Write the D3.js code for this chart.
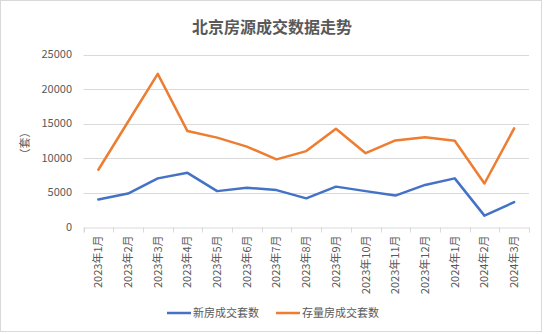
<!DOCTYPE html>
<html><head><meta charset="utf-8">
<script src="https://cdn.jsdelivr.net/npm/d3@7"></script>
<style>body{margin:0;background:#fff}svg{display:block}</style>
</head><body>
<script>
const categories = ["2023年1月","2023年2月","2023年3月","2023年4月","2023年5月","2023年6月","2023年7月","2023年8月","2023年9月","2023年10月","2023年11月","2023年12月","2024年1月","2024年2月","2024年3月"];
const newHomes = [4000, 4850, 7050, 7850, 5200, 5700, 5350, 4150, 5850, 5200, 4550, 6100, 7050, 1650, 3600];
const existingHomes = [8300, 15250, 22200, 13900, 12950, 11650, 9800, 11000, 14250, 10700, 12550, 13000, 12500, 6300, 14300];
const yTicks = [0, 5000, 10000, 15000, 20000, 25000];
const seriesNames = ["新房成交套数", "存量房成交套数"];
const colors = ["#4472C4", "#ED7D31"];

const W = 544, H = 334;
const font = "'Noto Sans CJK SC', 'Noto Sans', sans-serif";
const svg = d3.select("body").append("svg").attr("width", W).attr("height", H);
svg.append("rect").attr("x",0.5).attr("y",0.5).attr("width",541).attr("height",331)
  .attr("fill","#fff").attr("stroke","#d9d9d9");

const x = d3.scaleBand().domain(categories).range([83.5, 529]);
const y = d3.scaleLinear().domain([0, 25000]).range([227, 54.5]);

svg.append("text").attr("x", 272).attr("y", 33).attr("text-anchor","middle")
  .attr("font-family", font).attr("font-size", 16).attr("font-weight","bold")
  .attr("fill","#595959").text("北京房源成交数据走势");

// gridlines
svg.append("g").selectAll("line").data(yTicks.filter(d=>d>0)).join("line")
  .attr("x1", 83.5).attr("x2", 529).attr("y1", d=>Math.round(y(d))+0.5).attr("y2", d=>Math.round(y(d))+0.5)
  .attr("stroke","#d9d9d9").attr("stroke-width",1);

// y labels
svg.append("g").selectAll("text").data(yTicks).join("text")
  .attr("x", 72).attr("y", d=>y(d)).attr("dy","0.35em").attr("text-anchor","end")
  .attr("font-family", font).attr("font-size", 11).attr("fill","#595959").text(d=>d);

// x axis
const xAxis = d3.axisBottom(x).tickSizeOuter(0).tickSize(5);
const gx = svg.append("g").attr("transform", `translate(0,${Math.round(y(0))+0.5})`).call(xAxis);
gx.select(".domain").attr("stroke","#d9d9d9");
gx.selectAll(".tick line").remove();
const bounds = categories.map(c=>x(c)).concat([x.range()[1]]);
gx.selectAll(".bt").data(bounds).join("line").attr("class","bt")
  .attr("x1", d=>Math.round(d)+0.5).attr("x2", d=>Math.round(d)+0.5).attr("y1",0).attr("y2",5)
  .attr("stroke","#d9d9d9");
gx.selectAll(".tick text")
  .attr("font-family", font).attr("font-size", 11).attr("fill","#595959")
  .attr("transform","rotate(-90)").attr("text-anchor","end")
  .attr("x",-8).attr("y",0).attr("dy","0.35em");

// y axis title
svg.append("text").attr("transform","translate(25,143) rotate(-90)").attr("text-anchor","middle")
  .attr("dy","0.35em").attr("font-family", font).attr("font-size", 11).attr("fill","#595959").text("（套）");

const line = d3.line().x((d,i)=>x(categories[i]) + x.bandwidth()/2).y(d=>y(d));
[newHomes, existingHomes].forEach((s,i)=>{
  svg.append("path").datum(s).attr("d", line).attr("fill","none")
    .attr("stroke", colors[i]).attr("stroke-width", 2.5).attr("stroke-linejoin","round").attr("stroke-linecap","round");
});

// legend
const leg = [{x:167, tx:193}, {x:276, tx:302}];
seriesNames.forEach((n,i)=>{
  svg.append("line").attr("x1", leg[i].x).attr("x2", leg[i].x+24).attr("y1",313).attr("y2",313)
    .attr("stroke", colors[i]).attr("stroke-width",2.5);
  svg.append("text").attr("x", leg[i].tx).attr("y",313).attr("dy","0.35em")
    .attr("font-family", font).attr("font-size", 11).attr("fill","#595959").text(n);
});
</script>
</body></html>
